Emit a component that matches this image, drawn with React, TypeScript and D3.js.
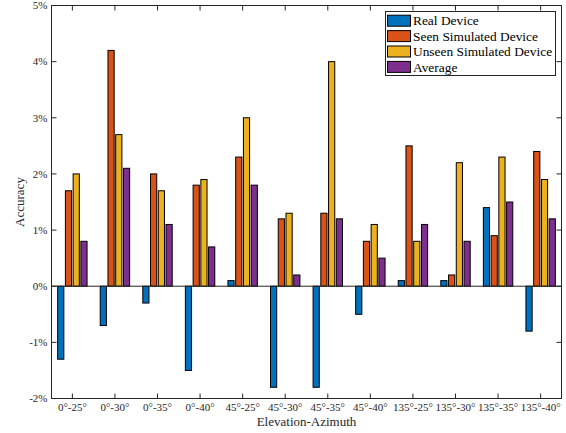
import React from 'react';
import * as d3 from 'd3';

const categories = ['0°-25°', '0°-30°', '0°-35°', '0°-40°', '45°-25°', '45°-30°', '45°-35°', '45°-40°', '135°-25°', '135°-30°', '135°-35°', '135°-40°'];
const seriesNames = ['Real Device', 'Seen Simulated Device', 'Unseen Simulated Device', 'Average'];
const realDevice = [-1.3, -0.7, -0.3, -1.5, 0.1, -1.8, -1.8, -0.5, 0.1, 0.1, 1.4, -0.8];
const seenSimulated = [1.7, 4.2, 2.0, 1.8, 2.3, 1.2, 1.3, 0.8, 2.5, 0.2, 0.9, 2.4];
const unseenSimulated = [2.0, 2.7, 1.7, 1.9, 3.0, 1.3, 4.0, 1.1, 0.8, 2.2, 2.3, 1.9];
const average = [0.8, 2.1, 1.1, 0.7, 1.8, 0.2, 1.2, 0.5, 1.1, 0.8, 1.5, 1.2];
const yTicks = [-2, -1, 0, 1, 2, 3, 4, 5];

const series = [realDevice, seenSimulated, unseenSimulated, average];
const colors = ['#0072BD', '#D95319', '#EDB120', '#7E2F8E'];

const W = 566;
const H = 433;
const left = 51.5, right = 561.5, top = 5.5, bottom = 398.5;
const axisColor = '#262626';
const font = "Liberation Serif, DejaVu Serif, serif";

export default function App() {
  const x = d3.scaleLinear().domain([0.51, 12.49]).range([left, right]);
  const y = d3.scaleLinear().domain([-2, 5]).range([bottom, top]);

  // matlab grouped bar geometry
  const n = series.length;
  const groupWidth = Math.min(0.8, n / (n + 1.5));
  const step = groupWidth / n;
  const barW = x(1 + step * 0.8) - x(1);
  const tickLen = 5;

  return (
    <svg width={W} height={H} style={{ position: 'absolute', left: 0, top: 0, background: '#fff' }} fontFamily={font}>
      {/* bars */}
      {series.map((vals, si) =>
        vals.map((v, ci) => {
          const cx = x(ci + 1 - groupWidth / 2 + step * (si + 0.5));
          const y0 = y(Math.max(0, v));
          const y1 = y(Math.min(0, v));
          return (
            <rect key={`${si}-${ci}`} x={cx - barW / 2} y={y0} width={barW} height={y1 - y0}
              fill={colors[si]} stroke="#000" strokeWidth={1} />
          );
        })
      )}
      {/* baseline */}
      <line x1={left} x2={right} y1={y(0)} y2={y(0)} stroke={axisColor} strokeWidth={1} />

      {/* axes box */}
      <rect x={left} y={top} width={right - left} height={bottom - top} fill="none" stroke={axisColor} strokeWidth={1} />

      {/* y ticks */}
      {yTicks.map(t => (
        <g key={t}>
          <line x1={left} x2={left + tickLen} y1={y(t)} y2={y(t)} stroke={axisColor} />
          <line x1={right} x2={right - tickLen} y1={y(t)} y2={y(t)} stroke={axisColor} />
          <text x={left - 4} y={y(t)} dy="0.35em" textAnchor="end" fontSize={11} fill={axisColor}>{`${t}%`}</text>
        </g>
      ))}

      {/* x ticks */}
      {categories.map((c, i) => (
        <g key={c}>
          <line x1={x(i + 1)} x2={x(i + 1)} y1={bottom} y2={bottom - tickLen} stroke={axisColor} />
          <line x1={x(i + 1)} x2={x(i + 1)} y1={top} y2={top + tickLen} stroke={axisColor} />
          <text x={x(i + 1)} y={bottom + 12} textAnchor="middle" fontSize={11} fill={axisColor}>{c}</text>
        </g>
      ))}

      {/* axis labels */}
      <text x={(left + right) / 2} y={426} textAnchor="middle" fontSize={13} fill={axisColor}>Elevation-Azimuth</text>
      <text transform={`translate(24,${(top + bottom) / 2}) rotate(-90)`} textAnchor="middle" fontSize={13} fill={axisColor}>Accuracy</text>

      {/* legend */}
      <g>
        <rect x={385.5} y={11.5} width={170} height={64} fill="#fff" stroke={axisColor} strokeWidth={1} />
        {seriesNames.map((s, i) => {
          const cy = 20.7 + i * 15.4;
          return (
            <g key={s}>
              <rect x={387.5} y={cy - 5.5} width={23} height={11} fill={colors[i]} stroke="#000" strokeWidth={1} />
              <text x={413} y={cy} dy="0.35em" fontSize={13.4} fill="#000">{s}</text>
            </g>
          );
        })}
      </g>
    </svg>
  );
}
